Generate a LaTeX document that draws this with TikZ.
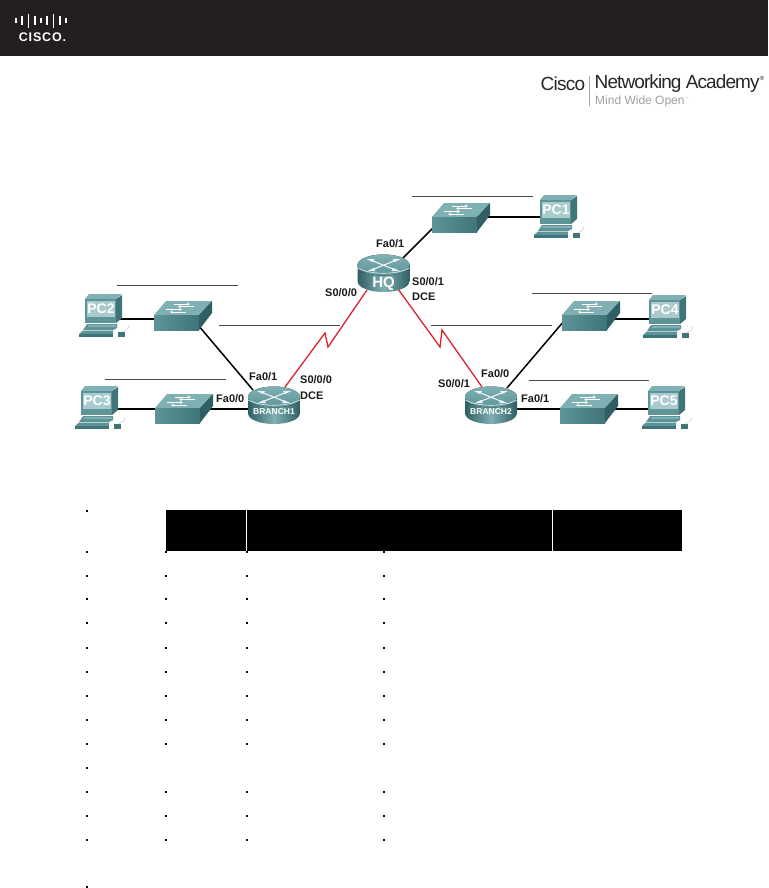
\documentclass[tikz,border=0pt]{standalone}
\usepackage{fontspec}
\setmainfont{Liberation Sans}
\usetikzlibrary{arrows.meta,calc}
\definecolor{hdr}{HTML}{231F20}
\definecolor{tealA}{HTML}{5E9498}
\definecolor{tealB}{HTML}{7FB0B3}
\definecolor{tealC}{HTML}{3F7579}
\definecolor{tealD}{HTML}{A9CBCD}
\definecolor{tealE}{HTML}{2F5F63}
\definecolor{wan}{HTML}{D9252B}
\definecolor{rule}{HTML}{4A4A4A}
\tikzset{
  x=1pt,y=-1pt,
  anchorbox/.style={inner sep=0pt,outer sep=0pt,minimum width=#1},
  lbl/.style={font=\bfseries\fontsize{11}{12}\selectfont,inner sep=0pt,anchor=west,text=black!90},
  lan/.style={line width=1.5pt,black},
  serial/.style={line width=1.3pt,wan,line join=miter},
  netrule/.style={line width=0.9pt,rule},
  tick/.style={fill=black,draw=none},
  pics/routericon/.style={code={
    \path[left color=tealE,right color=tealE,middle color=tealB,draw=none]
      (-26,-8) -- (-26,8) .. controls (-26,15) and (-13,19) .. (0,19)
      .. controls (13,19) and (26,15) .. (26,8) -- (26,-8) -- cycle;
    \fill[top color=tealB,bottom color=tealA] (0,-8) ellipse [x radius=26,y radius=10.5];
    \draw[white!85!tealA,line width=0.6pt] (-26,-5) .. controls (-13,2) and (13,2) .. (26,-5);
    \draw[white!90!tealA,line width=1.1pt] (-13,-13) -- (12,-3) (13,-13) -- (-12,-3);
    \fill[white!90!tealA] (-17,-14) -- (-9,-14) -- (-11,-11) -- cycle (17,-14) -- (9,-14) -- (11,-11) -- cycle
      (-16,-2) -- (-8,-2) -- (-10,-5) -- cycle (16,-2) -- (8,-2) -- (10,-5) -- cycle;
  }},
  pics/switchicon/.style={code={
    \fill[tealB] (0,15) -- (12,1) -- (58,1) -- (45,15) -- cycle;
    \fill[left color=tealA,right color=tealC] (0,15) -- (45,15) -- (45,30) -- (0,30) -- cycle;
    \fill[tealE] (45,15) -- (58,1) -- (58,13) -- (45,30) -- cycle;
    \draw[white,line width=0.8pt,-{Stealth[length=3pt,width=3pt]}] (20,4) -- (36,4);
    \draw[white,line width=0.8pt,-{Stealth[length=3pt,width=3pt]}] (40,6.5) -- (24,6.5);
    \draw[white,line width=0.8pt,-{Stealth[length=3pt,width=3pt]}] (12,9.5) -- (28,9.5);
    \draw[white,line width=0.8pt,-{Stealth[length=3pt,width=3pt]}] (32,12) -- (16,12);
  }},
  pics/pcicon/.style={code={
    \fill[tealC] (37,5) -- (43,1) -- (43,24) -- (37,29) -- cycle;
    \fill[tealB] (6,5) -- (10,0) -- (43,0) -- (37,5) -- cycle;
    \fill[tealA] (6,5) rectangle (37,29);
    \fill[tealD] (8,7) rectangle (36,23);
    \node[font=\bfseries\fontsize{14}{14}\selectfont,text=white,inner sep=0pt] at (22,15) {#1};
    \fill[tealA] (4,36) -- (8,30) -- (38,30) -- (38,34) -- (34,36) -- cycle;
    \fill[tealB] (9,31) rectangle (37,33);
    \fill[tealA] (0,40) -- (4,36.5) -- (34,36.5) -- (34,40) -- cycle;
    \fill[tealC] (0,40) rectangle (34,43);
    \fill[tealC] (39,38) rectangle (46,43);
    \draw[gray!40,line width=0.5pt] (43,38) .. controls (47,36) and (50,35) .. (50,31);
  }},
}
\begin{document}
\begin{tikzpicture}
\useasboundingbox (0,0) rectangle (768,888);
\fill[white] (0,0) rectangle (768,888);
% header
\fill[hdr] (0,0) rectangle (768,56);
\foreach \xx/\hh in {16/5,22.25/9,28.5/14,34.75/9,41/5,47.25/9,53.5/14,59.75/9,66/5}
  \fill[white] (\xx-0.9,21-\hh/2) rectangle (\xx+0.9,21+\hh/2);
\node[font=\bfseries\fontsize{12.5}{13}\selectfont,text=white,inner sep=0pt] (ciscologo) at (42.5,37) {\addfontfeature{LetterSpace=7}CISCO.};
\node[font=\fontsize{19}{20}\selectfont,text=black!85,inner sep=0pt,anchor=west] (ciscotext) at (540.5,84) {\addfontfeature{LetterSpace=-4}Cisco};
\draw[gray!70,line width=0.5pt] (589,76) -- (589,106);
\node[font=\fontsize{19}{20}\selectfont,text=black!85,inner sep=0pt,anchor=west] (nettext) at (594.5,84) {\addfontfeature{LetterSpace=-4.8}Networking Academy};
\node[font=\fontsize{6}{6}\selectfont,text=black!85,inner sep=0pt] (regmark) at (762,78) {®};
\node[font=\fontsize{12}{12}\selectfont,text=gray!75,inner sep=0pt,anchor=west] (mindtext) at (595,101) {Mind Wide Open};
\node[font=\fontsize{3}{3}\selectfont,text=gray!75,inner sep=0pt] (tmmark) at (687,98) {™};
% network rules
\foreach \xa/\xb/\yy in {412/533/196,117/238/285,219/340/325,105/226/379,532/652/293,431/552/325,529/649/380}
  \draw[netrule] (\xa,\yy) -- (\xb,\yy);
% anchor nodes
\node[anchorbox=52pt,minimum height=38pt] (hq) at (383.5,273) {};
\node[anchorbox=52pt,minimum height=38pt] (br1) at (274,405) {};
\node[anchorbox=52pt,minimum height=38pt] (br2) at (491,405) {};
\node[anchorbox=58pt,minimum height=30pt] (s1) at (461,217) {};
\node[anchorbox=58pt,minimum height=30pt] (s2) at (183,315) {};
\node[anchorbox=58pt,minimum height=30pt] (s3) at (184,408) {};
\node[anchorbox=58pt,minimum height=30pt] (s4) at (591,315) {};
\node[anchorbox=58pt,minimum height=30pt] (s5) at (589,408) {};
\node[anchorbox=50pt,minimum height=44pt] (pc1) at (559,217) {};
\node[anchorbox=50pt,minimum height=44pt] (pc2) at (103,316) {};
\node[anchorbox=50pt,minimum height=44pt] (pc3) at (99,408) {};
\node[anchorbox=50pt,minimum height=44pt] (pc4) at (667,317) {};
\node[anchorbox=50pt,minimum height=44pt] (pc5) at (667,408) {};
% LAN links
\draw[lan] ([shift={(19.5,-15)}]hq.center) -- ([shift={(-27,10)}]s1.center);
\draw[lan] (s1.center) -- (pc1.center);
\draw[lan] ([shift={(0,3)}]pc2.center) -- ([shift={(0,4)}]s2.center);
\draw[lan] ([shift={(0,1)}]pc3.center) -- ([shift={(0,1)}]s3.center);
\draw[lan] ([shift={(0,1)}]s3.center) -- ([shift={(0,4)}]br1.center);
\draw[lan] ([shift={(15,10)}]s2.center) -- ([shift={(-21,-15)}]br1.center);
\draw[lan] ([shift={(-27,6)}]s4.center) -- ([shift={(16,-17)}]br2.center);
\draw[lan] ([shift={(0,4)}]s4.center) -- ([shift={(0,2)}]pc4.center);
\draw[lan] ([shift={(0,4)}]br2.center) -- ([shift={(0,1)}]s5.center);
\draw[lan] ([shift={(0,1)}]s5.center) -- ([shift={(0,1)}]pc5.center);
% serial links
\draw[serial] ([shift={(11,-18)}]br1.center) -- (325,333) -- (328,347) -- ([shift={(-16.5,17)}]hq.center);
\draw[serial] ([shift={(14.5,16)}]hq.center) -- (440,347) -- (442,330) -- ([shift={(-9,-18)}]br2.center);
% icons
\pic at (383.5,273) {routericon};
\pic at (274,405) {routericon};
\pic at (491,405) {routericon};
\node[font=\bfseries\fontsize{15}{15}\selectfont,text=white,inner sep=0pt] (hqname) at (383.5,284) {HQ};
\node[font=\bfseries\fontsize{8.5}{8.5}\selectfont,text=white,inner sep=0pt] (br1name) at (274,412) {BRANCH1};
\node[font=\bfseries\fontsize{8.5}{8.5}\selectfont,text=white,inner sep=0pt] (br2name) at (491,412) {BRANCH2};
\pic at (432,202) {switchicon};
\pic at (154,300) {switchicon};
\pic at (155,393) {switchicon};
\pic at (562,300) {switchicon};
\pic at (560,393) {switchicon};
\pic at (534,195) {pcicon=PC1};
\pic at (79,294) {pcicon=PC2};
\pic at (75,386) {pcicon=PC3};
\pic at (643,295) {pcicon=PC4};
\pic at (642,386) {pcicon=PC5};
% interface labels
\node[lbl] (l1) at (376,244) {Fa0/1};
\node[lbl] (l2) at (325,293) {S0/0/0};
\node[lbl] (l3) at (412,282) {S0/0/1};
\node[lbl] (l4) at (412,297) {DCE};
\node[lbl] (l5) at (249,377) {Fa0/1};
\node[lbl] (l6) at (300,380) {S0/0/0};
\node[lbl] (l7) at (300,396) {DCE};
\node[lbl] (l8) at (216,399) {Fa0/0};
\node[lbl] (l9) at (481,374) {Fa0/0};
\node[lbl] (l10) at (438,384) {S0/0/1};
\node[lbl] (l11) at (521,399) {Fa0/1};
% table header
\fill[black] (166,510) rectangle (246,551);
\fill[black] (247,510) rectangle (552,551);
\fill[black] (553,510) rectangle (682,551);
% table marks
\foreach \yy in {510,767,886} \fill[tick] (86,\yy) rectangle (88,\yy+2);
\foreach \yy in {551,575,598,622,647,671,695,719,743,791,815,839}
  \foreach \xx in {87,166,247,384}
    \fill[tick] (\xx-1,\yy) rectangle (\xx+1,\yy+2);
\end{tikzpicture}
\end{document}
